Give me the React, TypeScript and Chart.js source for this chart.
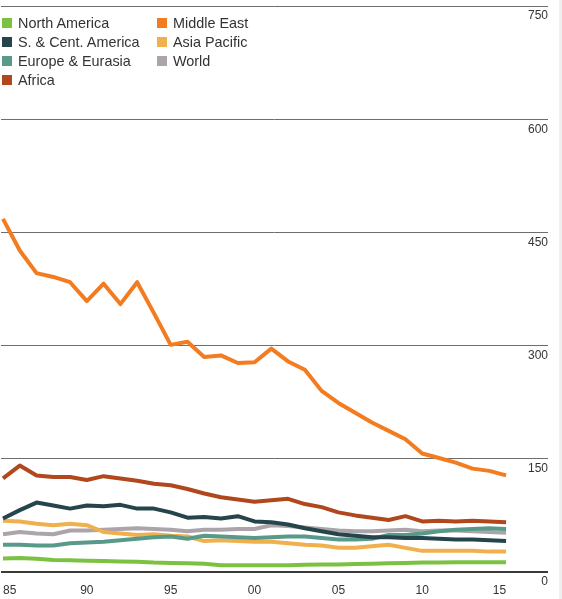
import React, { useEffect, useRef } from "react";
import { Chart, registerables } from "chart.js";

Chart.register(...registerables);

const YEARS = [
  1985, 1986, 1987, 1988, 1989, 1990, 1991, 1992, 1993, 1994, 1995, 1996, 1997, 1998, 1999, 2000,
  2001, 2002, 2003, 2004, 2005, 2006, 2007, 2008, 2009, 2010, 2011, 2012, 2013, 2014, 2015,
];

const NORTH_AMERICA = [
  18, 18.5, 17.5, 16, 15.5, 15, 14.5, 14, 13.5, 12.5, 12, 11.5, 11, 9, 9, 9, 9, 9, 9.5, 10, 10,
  10.5, 11, 11.5, 12, 12.5, 12.5, 13, 13, 13, 13,
];
const SC_AMERICA = [
  71, 82, 92, 88, 84, 88, 87, 89, 84, 84, 79, 72, 73, 71, 74, 67, 66, 63, 58, 54, 50, 48, 46, 46,
  45, 45, 44, 43, 43, 42, 41,
];
const EUROPE_EURASIA = [
  36, 36, 35, 35, 38, 39, 40, 42, 44, 46, 47, 44, 48, 47, 46, 45, 46, 47, 47, 45, 43, 43, 44, 49,
  49, 51, 54, 56, 57, 58, 57,
];
const AFRICA = [
  124, 141, 128, 126, 126, 122, 127, 124, 121, 117, 115, 110, 104, 99, 96, 93, 95, 97, 90, 86, 79,
  75, 72, 69, 74, 67, 68, 67, 68, 67, 66,
];
const MIDDLE_EAST = [
  468, 426, 396, 391, 384, 359, 382, 355, 384, 343, 301, 305, 285, 287, 277, 278, 296, 279, 268,
  240, 224, 211, 198, 187, 176, 157, 151, 145, 137, 134, 128,
];
const ASIA_PACIFIC = [
  68, 67, 64, 62, 64, 62, 53, 51, 49, 50, 48, 47, 41, 42, 41, 40, 40, 38, 36, 35, 32, 32, 34, 36,
  32, 28, 28, 28, 28, 27, 27,
];
const WORLD = [
  50, 53, 51, 50, 55, 55, 56, 57, 58, 57, 56, 54, 56, 56, 57, 57, 62, 61, 59, 57, 55, 54, 54, 55,
  56, 54, 55, 55, 54, 53, 52,
];

const X_TICKS = [1985, 1990, 1995, 2000, 2005, 2010, 2015];
const Y_TICKS = [0, 150, 300, 450, 600, 750];

const SERIES = [
  { label: "North America", data: NORTH_AMERICA, color: "#7cc242" },
  { label: "S. & Cent. America", data: SC_AMERICA, color: "#25444b" },
  { label: "Europe & Eurasia", data: EUROPE_EURASIA, color: "#579a8a" },
  { label: "Africa", data: AFRICA, color: "#b1471d" },
  { label: "Middle East", data: MIDDLE_EAST, color: "#f47c20" },
  { label: "Asia Pacific", data: ASIA_PACIFIC, color: "#efb04d" },
  { label: "World", data: WORLD, color: "#aca4ab" },
];

const LEGEND_COLS = [
  ["North America", "S. & Cent. America", "Europe & Eurasia", "Africa"],
  ["Middle East", "Asia Pacific", "World"],
];

const FONT = '"Liberation Sans", Arial, Helvetica, sans-serif';

export default function App() {
  const canvasRef = useRef<HTMLCanvasElement | null>(null);

  useEffect(() => {
    document.body.style.margin = "0";
    const canvas = canvasRef.current;
    if (!canvas) return;

    const yLabels = {
      id: "yLabels",
      afterDraw(chart: any) {
        const { ctx, scales, chartArea } = chart;
        const y = scales.y;
        ctx.save();
        ctx.font = `12px ${FONT}`;
        ctx.fillStyle = "#333";
        ctx.textAlign = "right";
        ctx.textBaseline = "middle";
        for (const v of Y_TICKS) {
          ctx.fillText(String(v), chartArea.right, y.getPixelForValue(v) + 10);
        }
        ctx.restore();
      },
    };

    const chart = new Chart(canvas, {
      type: "line",
      data: {
        datasets: SERIES.map((s) => ({
          label: s.label,
          data: YEARS.map((yr, i) => ({ x: yr, y: s.data[i] })),
          borderColor: s.color,
          backgroundColor: s.color,
          borderWidth: 4,
          pointRadius: 0,
          tension: 0,
          fill: false,
          borderJoinStyle: "round",
        })),
      },
      options: {
        animation: false,
        responsive: false,
        layout: { padding: { left: 0, right: 14, top: 6, bottom: 0 }, autoPadding: false },
        plugins: { legend: { display: false }, tooltip: { enabled: false } },
        scales: {
          x: {
            type: "linear",
            min: 1984.88,
            max: 2017.5,
            afterBuildTicks: (s: any) => {
              s.ticks = X_TICKS.map((v) => ({ value: v }));
            },
            afterFit: (s: any) => {
              s.height = 27;
            },
            ticks: {
              align: "inner",
              padding: 3,
              color: "#333",
              font: { family: FONT, size: 12 },
              callback: (v: any) => String(Number(v) % 100).padStart(2, "0"),
            },
            grid: { display: false },
            border: { display: false },
          },
          y: {
            position: "right",
            min: 0,
            max: 750,
            afterBuildTicks: (s: any) => {
              s.ticks = Y_TICKS.map((v) => ({ value: v }));
            },
            afterFit: (s: any) => {
              s.width = 0;
            },
            ticks: { display: false },
            grid: {
              drawTicks: false,
              color: (c: any) => (c.tick && c.tick.value === 0 ? "#3a3a3a" : "#6e6e6e"),
              lineWidth: (c: any) => (c.tick && c.tick.value === 0 ? 2 : 1),
            },
            border: { display: false },
          },
        },
      },
      plugins: [yLabels],
    } as any);

    return () => chart.destroy();
  }, []);

  return (
    <div style={{ position: "relative", width: 562, height: 599, background: "#fff", overflow: "hidden" }}>
      <canvas ref={canvasRef} width={562} height={599} style={{ display: "block" }} />
      <div style={{ position: "absolute", left: 559, top: 0, width: 3, height: 599, background: "#efefef" }} />
      {LEGEND_COLS.map((col, ci) =>
        col.map((label, ri) => {
          const s = SERIES.find((x) => x.label === label)!;
          return (
            <div
              key={label}
              style={{
                position: "absolute",
                left: ci === 0 ? 2 : 157,
                top: 13 + ri * 19,
                height: 19,
                display: "flex",
                alignItems: "center",
                fontFamily: FONT,
                fontSize: 14.4,
                color: "#333",
                whiteSpace: "nowrap",
              }}
            >
              <span style={{ display: "inline-block", width: 10, height: 10, background: s.color, marginRight: 6 }} />
              <span>{label}</span>
            </div>
          );
        })
      )}
    </div>
  );
}
